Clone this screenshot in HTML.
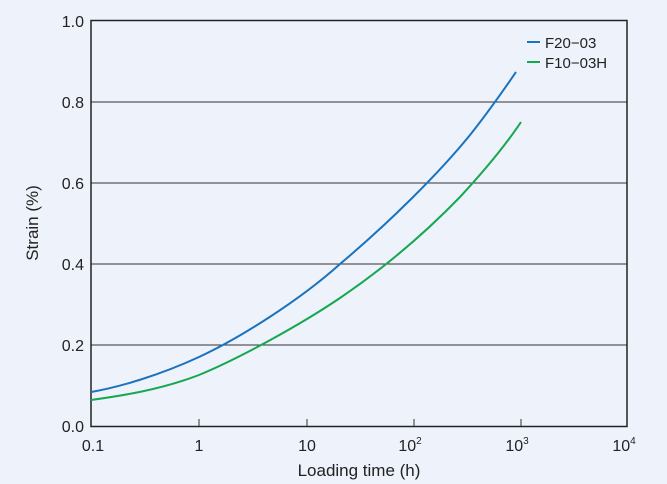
<!DOCTYPE html>
<html><head><style>
html,body{margin:0;padding:0;background:#eef2fb;}
svg{display:block;font-family:"Liberation Sans",sans-serif;}
</style></head><body>
<svg width="667" height="484" viewBox="0 0 667 484">
<rect width="667" height="484" fill="#eef2fb"/>
<g stroke="#333" stroke-width="1">
<line x1="91" y1="102" x2="627" y2="102"/>
<line x1="91" y1="183" x2="627" y2="183"/>
<line x1="91" y1="264" x2="627" y2="264"/>
<line x1="91" y1="345" x2="627" y2="345"/>
</g>
<rect x="91" y="20.5" width="536" height="406" fill="none" stroke="#222" stroke-width="1.5"/>
<g stroke="#333" stroke-width="1">
<line x1="199" y1="426" x2="199" y2="419"/>
<line x1="307" y1="426" x2="307" y2="419"/>
<line x1="414" y1="426" x2="414" y2="419"/>
<line x1="521" y1="426" x2="521" y2="419"/>
</g>
<g font-size="16" fill="#222" text-anchor="end">
<text x="84" y="27">1.0</text>
<text x="84" y="108">0.8</text>
<text x="84" y="189">0.6</text>
<text x="84" y="270">0.4</text>
<text x="84" y="351">0.2</text>
<text x="84" y="432">0.0</text>
</g>
<g font-size="16" fill="#222" text-anchor="middle">
<text x="93" y="451">0.1</text>
<text x="199" y="451">1</text>
<text x="307" y="451">10</text>
<text x="410" y="451">10<tspan font-size="10" dy="-7">2</tspan></text>
<text x="517" y="451">10<tspan font-size="10" dy="-7">3</tspan></text>
<text x="624" y="451">10<tspan font-size="10" dy="-7">4</tspan></text>
</g>
<text x="359" y="476" font-size="17" fill="#222" text-anchor="middle">Loading time (h)</text>
<text transform="translate(38,223) rotate(-90)" font-size="17" fill="#222" text-anchor="middle">Strain (%)</text>
<path d="M91,392 C120,387 160,375 199,357 C240,338 300,300 340,264 C390,222 440,172 470,135 C490,110 505,88 516,72" fill="none" stroke="#1a73bf" stroke-width="2"/>
<path d="M91,400 C120,396 160,390 199,375 C240,358 300,325 340,298 C390,264 430,228 460,197 C485,170 505,146 521,122" fill="none" stroke="#16a84e" stroke-width="2"/>
<line x1="527" y1="42" x2="540" y2="42" stroke="#1a73bf" stroke-width="2"/>
<line x1="527" y1="62" x2="540" y2="62" stroke="#16a84e" stroke-width="2"/>
<text x="545" y="48" font-size="15" fill="#222">F20−03</text>
<text x="545" y="68" font-size="15" fill="#222">F10−03H</text>
</svg>
</body></html>
